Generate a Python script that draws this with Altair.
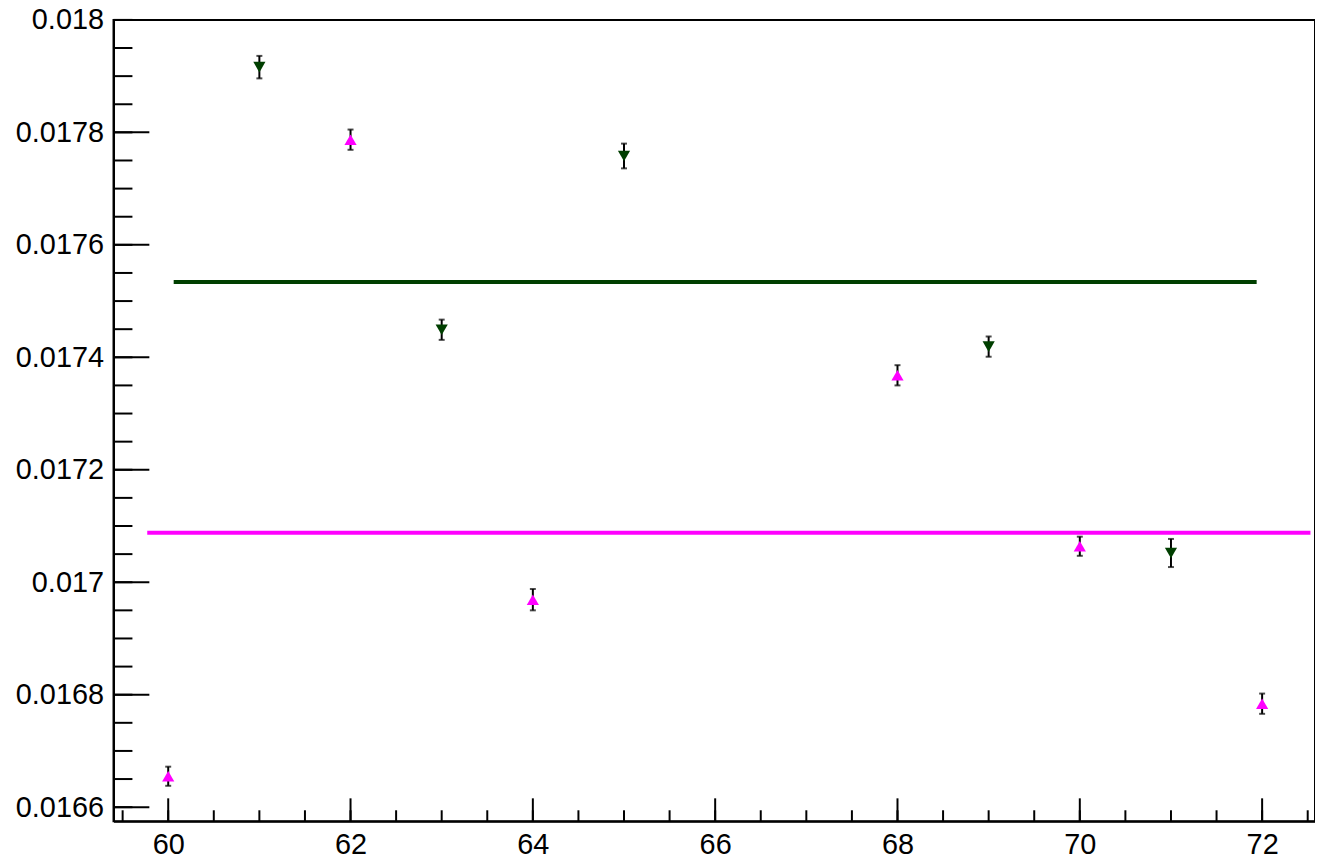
import altair as alt
import pandas as pd

# Pink series (upward triangles)
pink_x = [60, 62, 64, 68, 70, 72]
pink_y = [0.016655, 0.017787, 0.016969, 0.017368, 0.017064, 0.016784]
pink_err = [0.000017, 0.000018, 0.000019, 0.000018, 0.000017, 0.000018]

# Green series (downward triangles)
green_x = [61, 63, 65, 69, 71]
green_y = [0.017916, 0.017449, 0.017758, 0.017419, 0.017052]
green_err = [0.000020, 0.000018, 0.000022, 0.000018, 0.000025]

# Constant fit lines
fit_series = ["pink", "green"]
fit_y = [0.017088, 0.017534]
fit_x1 = [59.77, 60.06]
fit_x2 = [72.53, 71.94]

# Axis ticks
x_major = [60, 62, 64, 66, 68, 70, 72]
x_minor = [59.5 + 0.5 * i for i in range(27)]
y_major = [0.0166, 0.0168, 0.017, 0.0172, 0.0174, 0.0176, 0.0178, 0.018]
y_minor = [0.01660 + 0.00005 * i for i in range(29)]

X_DOM = [59.4, 72.58]
Y_DOM = [0.016575, 0.018]
W, H = 1207, 805
COLORS = {"pink": "#ff00ff", "green": "#003f00"}
FONT = "Liberation Sans"

pts = pd.DataFrame({
    "x": pink_x + green_x,
    "y": pink_y + green_y,
    "err": pink_err + green_err,
    "series": ["pink"] * len(pink_x) + ["green"] * len(green_x),
})
pts["lo"] = pts["y"] - pts["err"]
pts["hi"] = pts["y"] + pts["err"]

fits = pd.DataFrame({"series": fit_series, "y": fit_y, "x1": fit_x1, "x2": fit_x2})

xs = alt.Scale(domain=X_DOM, nice=False, zero=False)
ys = alt.Scale(domain=Y_DOM, nice=False, zero=False)

XAX = alt.Axis(values=x_major, format="d", ticks=False, grid=False, title=None,
               labelFont=FONT, labelFontSize=29, labelColor="black",
               labelPadding=9, domainColor="black", domainWidth=2)
YAX = alt.Axis(values=y_major, format=".4~f", ticks=False, grid=False, title=None,
               labelFont=FONT, labelFontSize=29, labelColor="black",
               labelPadding=10, domainColor="black", domainWidth=2)


def X(f):
    return alt.X(f, scale=xs, axis=XAX, title=None)


def Y(f):
    return alt.Y(f, scale=ys, axis=YAX, title=None)


color = alt.Color("series:N", scale=alt.Scale(domain=list(COLORS), range=list(COLORS.values())), legend=None)

fit_lines = alt.Chart(fits).mark_rule(strokeWidth=4).encode(
    x=X("x1:Q"), x2="x2:Q", y=Y("y:Q"), color=color,
)

err_bars = alt.Chart(pts).mark_rule(color="black", strokeWidth=2).encode(
    x=X("x:Q"), y=Y("lo:Q"), y2="hi:Q",
)
caps_lo = alt.Chart(pts).mark_tick(color="black", orient="horizontal", size=6, thickness=2).encode(
    x=X("x:Q"), y=Y("lo:Q"))
caps_hi = alt.Chart(pts).mark_tick(color="black", orient="horizontal", size=6, thickness=2).encode(
    x=X("x:Q"), y=Y("hi:Q"))

markers = alt.Chart(pts).mark_point(filled=True, size=150, opacity=1).encode(
    x=X("x:Q"), y=Y("y:Q"),
    color=color,
    shape=alt.Shape("series:N", scale=alt.Scale(domain=["pink", "green"],
                                                range=["triangle-up", "triangle-down"]), legend=None),
)

xmaj = alt.Chart(pd.DataFrame({"t": x_major})).mark_rule(color="black", strokeWidth=2).encode(
    x=X("t:Q"), y=alt.value(H), y2=alt.value(H - 23))
xmin = alt.Chart(pd.DataFrame({"t": x_minor})).mark_rule(color="black", strokeWidth=2).encode(
    x=X("t:Q"), y=alt.value(H), y2=alt.value(H - 11))
ymaj = alt.Chart(pd.DataFrame({"t": y_major})).mark_rule(color="black", strokeWidth=2).encode(
    y=Y("t:Q"), x=alt.value(0), x2=alt.value(36))
ymin = alt.Chart(pd.DataFrame({"t": y_minor})).mark_rule(color="black", strokeWidth=2).encode(
    y=Y("t:Q"), x=alt.value(0), x2=alt.value(19))

chart = alt.layer(
    fit_lines, err_bars, caps_lo, caps_hi, markers, xmaj, xmin, ymaj, ymin
).properties(
    width=W, height=H,
    autosize=alt.AutoSizeParams(type="none"),
    padding={"left": 106, "top": 10, "right": 0, "bottom": 38},
    background="white",
).configure_view(stroke="black", strokeWidth=2)

chart.save("out.html", embed_options={"renderer": "svg", "actions": False})
